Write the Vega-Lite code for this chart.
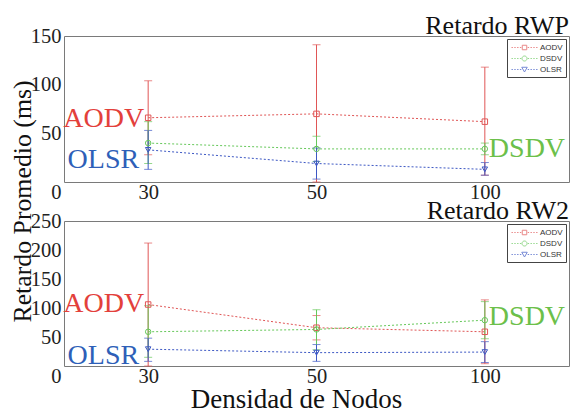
{
  "$schema": "https://vega.github.io/schema/vega-lite/v6.json",
  "background": "white",
  "padding": {"left": 8, "top": 12, "right": 5, "bottom": 0},
  "config": {
    "font": "Liberation Serif",
    "view": {"stroke": "#7a7a7a", "strokeWidth": 1},
    "axis": {"grid": false, "domain": false, "ticks": false, "labelFont": "Liberation Serif", "labelFontSize": 20.5, "labelColor": "#222", "titleFont": "Liberation Serif", "titleFontWeight": "normal", "titleColor": "#111", "labelPadding": 3, "labelOverlap": false},
    "axisX": {"labelPadding": 0},
    "title": {"font": "Liberation Serif", "fontSize": 26, "fontWeight": "normal", "color": "#111", "anchor": "end"}
  },
  "datasets": {
    "rwp": [
      {"proto": "AODV", "idx": 1, "mean": 66, "lo": 28, "hi": 104},
      {"proto": "AODV", "idx": 2, "mean": 70, "lo": 0, "hi": 141},
      {"proto": "AODV", "idx": 3, "mean": 62, "lo": 7, "hi": 118},
      {"proto": "DSDV", "idx": 1, "mean": 40, "lo": 19, "hi": 62},
      {"proto": "DSDV", "idx": 2, "mean": 34, "lo": 21, "hi": 47},
      {"proto": "DSDV", "idx": 3, "mean": 34, "lo": 28, "hi": 40},
      {"proto": "OLSR", "idx": 1, "mean": 33, "lo": 13, "hi": 53},
      {"proto": "OLSR", "idx": 2, "mean": 19, "lo": 3, "hi": 35},
      {"proto": "OLSR", "idx": 3, "mean": 13, "lo": 7, "hi": 20}
    ],
    "rw2": [
      {"proto": "AODV", "idx": 1, "mean": 106, "lo": 0, "hi": 212},
      {"proto": "AODV", "idx": 2, "mean": 66, "lo": 45, "hi": 87},
      {"proto": "AODV", "idx": 3, "mean": 59, "lo": 4, "hi": 114},
      {"proto": "DSDV", "idx": 1, "mean": 59, "lo": 15, "hi": 104},
      {"proto": "DSDV", "idx": 2, "mean": 63, "lo": 28, "hi": 97},
      {"proto": "DSDV", "idx": 3, "mean": 79, "lo": 47, "hi": 111},
      {"proto": "OLSR", "idx": 1, "mean": 29, "lo": 8, "hi": 48},
      {"proto": "OLSR", "idx": 2, "mean": 23, "lo": 8, "hi": 37},
      {"proto": "OLSR", "idx": 3, "mean": 24, "lo": 6, "hi": 42}
    ],
    "labs": [
      {"panel": "RWP", "proto": "AODV", "idx": 1, "y": 56},
      {"panel": "RWP", "proto": "OLSR", "idx": 1, "y": 14},
      {"panel": "RWP", "proto": "DSDV", "idx": 3, "y": 25.4},
      {"panel": "RW2", "proto": "AODV", "idx": 1, "y": 93.5},
      {"panel": "RW2", "proto": "OLSR", "idx": 1, "y": 3.4},
      {"panel": "RW2", "proto": "DSDV", "idx": 3, "y": 70.5}
    ],
    "leg": [{"lp": "AODV"}, {"lp": "DSDV"}, {"lp": "OLSR"}]
  },
  "spacing": 39,
  "bounds": "flush",
  "resolve": {"scale": {"x": "independent", "y": "independent", "color": "independent", "shape": "independent"}, "legend": {"color": "independent", "shape": "independent"}, "axis": {"x": "independent", "y": "independent"}},
  "vconcat": [
    {
      "width": 505,
      "height": 146,
      "title": {"text": "Retardo RWP", "offset": -13},
      "data": {"name": "rwp"},
      "resolve": {"scale": {"color": "independent", "shape": "independent"}},
      "layer": [
        {
          "mark": {"type": "line", "strokeDash": [2, 2], "strokeWidth": 1},
          "encoding": {
            "x": {"field": "idx", "type": "quantitative", "title": null, "scale": {"domain": [0.5, 3.5], "nice": false, "zero": false}, "axis": {"values": [1, 2, 3], "labelExpr": "datum.value == 1 ? '30' : datum.value == 2 ? '50' : '100'", "title": null}},
            "y": {"field": "mean", "type": "quantitative", "title": "Retardo Promedio (ms)", "scale": {"domain": [0, 150], "nice": false}, "axis": {"values": [0, 50, 100, 150], "title": "Retardo Promedio (ms)", "titleFontSize": 25.8, "titleX": -33.7, "titleY": 165, "titleAlign": "center", "titleBaseline": "alphabetic", "labelBaseline": {"condition": {"test": "datum.value == 0", "value": "top"}, "value": "middle"}}},
            "color": {"field": "proto", "type": "nominal", "scale": {"domain": ["AODV", "DSDV", "OLSR"], "range": ["#e05656", "#66c85a", "#3d58c4"]}, "legend": null},
            "detail": {"field": "proto"}
          }
        },
        {
          "mark": {"type": "errorbar", "ticks": {"size": 8}, "thickness": 1},
          "encoding": {
            "x": {"field": "idx", "type": "quantitative", "title": null, "axis": {"values": [1, 2, 3], "labelExpr": "datum.value == 1 ? '30' : datum.value == 2 ? '50' : '100'", "title": null}},
            "y": {"field": "lo", "type": "quantitative", "title": "Retardo Promedio (ms)", "axis": {"values": [0, 50, 100, 150], "title": "Retardo Promedio (ms)", "titleFontSize": 25.8, "titleX": -33.7, "titleY": 165, "titleAlign": "center", "titleBaseline": "alphabetic", "labelBaseline": {"condition": {"test": "datum.value == 0", "value": "top"}, "value": "middle"}}},
            "y2": {"field": "hi"},
            "color": {"field": "proto", "type": "nominal", "scale": {"domain": ["AODV", "DSDV", "OLSR"], "range": ["#e05656", "#66c85a", "#3d58c4"]}, "legend": null}
          }
        },
        {
          "mark": {"type": "point", "filled": false, "strokeWidth": 1, "size": 30, "opacity": 1},
          "encoding": {
            "x": {"field": "idx", "type": "quantitative", "title": null, "axis": {"values": [1, 2, 3], "labelExpr": "datum.value == 1 ? '30' : datum.value == 2 ? '50' : '100'", "title": null}},
            "y": {"field": "mean", "type": "quantitative", "title": "Retardo Promedio (ms)", "axis": {"values": [0, 50, 100, 150], "title": "Retardo Promedio (ms)", "titleFontSize": 25.8, "titleX": -33.7, "titleY": 165, "titleAlign": "center", "titleBaseline": "alphabetic", "labelBaseline": {"condition": {"test": "datum.value == 0", "value": "top"}, "value": "middle"}}},
            "color": {"field": "proto", "type": "nominal", "scale": {"domain": ["AODV", "DSDV", "OLSR"], "range": ["#e05656", "#66c85a", "#3d58c4"]}, "legend": null},
            "shape": {"field": "proto", "type": "nominal", "scale": {"domain": ["AODV", "DSDV", "OLSR"], "range": ["square", "circle", "triangle-down"]}, "legend": null}
          }
        },
        {
          "data": {"name": "labs"},
          "transform": [{"filter": "datum.panel == 'RWP'"}],
          "layer": [
            {"transform": [{"filter": "datum.proto == 'AODV'"}], "mark": {"type": "text", "align": "right", "baseline": "alphabetic", "dx": -4, "fontSize": 28, "font": "Liberation Serif", "color": "#e3403b"}},
            {"transform": [{"filter": "datum.proto == 'OLSR'"}], "mark": {"type": "text", "align": "right", "baseline": "alphabetic", "dx": -9, "fontSize": 28, "font": "Liberation Serif", "color": "#2e5fb8"}},
            {"transform": [{"filter": "datum.proto == 'DSDV'"}], "mark": {"type": "text", "align": "left", "baseline": "alphabetic", "dx": 4, "fontSize": 28, "font": "Liberation Serif", "color": "#6cc04a"}}
          ],
          "encoding": {
            "x": {"field": "idx", "type": "quantitative", "title": null, "axis": {"values": [1, 2, 3], "labelExpr": "datum.value == 1 ? '30' : datum.value == 2 ? '50' : '100'", "title": null}},
            "y": {"field": "y", "type": "quantitative", "title": "Retardo Promedio (ms)", "axis": {"values": [0, 50, 100, 150], "title": "Retardo Promedio (ms)", "titleFontSize": 25.8, "titleX": -33.7, "titleY": 165, "titleAlign": "center", "titleBaseline": "alphabetic", "labelBaseline": {"condition": {"test": "datum.value == 0", "value": "top"}, "value": "middle"}}},
            "text": {"field": "proto"}
          }
        },
        {
          "data": {"name": "leg"},
          "transform": [{"filter": "false"}],
          "mark": {"type": "point", "filled": false, "strokeWidth": 1},
          "encoding": {
            "color": {"field": "lp", "type": "nominal", "scale": {"domain": ["AODV", "DSDV", "OLSR"], "range": ["#e05656", "#66c85a", "#3d58c4"]}, "legend": {"title": null, "orient": "top-right", "offset": 3, "strokeColor": "#444", "fillColor": "white", "padding": 3, "labelFont": "Liberation Sans", "labelFontSize": 8, "labelColor": "#333", "symbolSize": 100, "symbolStrokeWidth": 1, "symbolOffset": 9, "labelOffset": 10, "rowPadding": 1}},
            "shape": {"field": "lp", "type": "nominal", "scale": {"domain": ["AODV", "DSDV", "OLSR"], "range": [
              "M-2.6,0H-2.32M-2.04,0H-1.76M-1.48,0H-1.2M-0.92,0H-0.64M0.64,0H0.92M1.2,0H1.48M1.76,0H2.04M2.32,0H2.6M-0.45,-0.45H0.45V0.45H-0.45Z",
              "M-2.6,0H-2.32M-2.04,0H-1.76M-1.48,0H-1.2M-0.92,0H-0.64M0.64,0H0.92M1.2,0H1.48M1.76,0H2.04M2.32,0H2.6M0.5,0A0.5,0.5 0 1,1 -0.5,0A0.5,0.5 0 1,1 0.5,0Z",
              "M-2.6,0H-2.32M-2.04,0H-1.76M-1.48,0H-1.2M-0.92,0H-0.64M0.64,0H0.92M1.2,0H1.48M1.76,0H2.04M2.32,0H2.6M-0.55,-0.45L0.55,-0.45L0,0.5Z"
            ]}, "legend": {"title": null, "orient": "top-right", "offset": 3, "strokeColor": "#444", "fillColor": "white", "padding": 3, "labelFont": "Liberation Sans", "labelFontSize": 8, "labelColor": "#333", "symbolSize": 100, "symbolStrokeWidth": 1, "symbolOffset": 9, "labelOffset": 10, "rowPadding": 1}}
          }
        }
      ]
    },
    {
      "width": 505,
      "height": 145,
      "title": {"text": "Retardo RW2", "offset": -13},
      "data": {"name": "rw2"},
      "resolve": {"scale": {"color": "independent", "shape": "independent"}},
      "layer": [
        {
          "mark": {"type": "line", "strokeDash": [2, 2], "strokeWidth": 1},
          "encoding": {
            "x": {"field": "idx", "type": "quantitative", "title": "Densidad de Nodos", "scale": {"domain": [0.5, 3.5], "nice": false, "zero": false}, "axis": {"values": [1, 2, 3], "labelExpr": "datum.value == 1 ? '30' : datum.value == 2 ? '50' : '100'", "title": "Densidad de Nodos", "titleFontSize": 27, "titleX": 232, "titleY": 41.5, "titleAlign": "center", "titleBaseline": "alphabetic"}},
            "y": {"field": "mean", "type": "quantitative", "title": null, "scale": {"domain": [0, 250], "nice": false}, "axis": {"values": [0, 50, 100, 150, 200, 250], "title": null, "labelBaseline": {"condition": {"test": "datum.value == 0", "value": "top"}, "value": "middle"}}},
            "color": {"field": "proto", "type": "nominal", "scale": {"domain": ["AODV", "DSDV", "OLSR"], "range": ["#e05656", "#66c85a", "#3d58c4"]}, "legend": null},
            "detail": {"field": "proto"}
          }
        },
        {
          "mark": {"type": "errorbar", "ticks": {"size": 8}, "thickness": 1},
          "encoding": {
            "x": {"field": "idx", "type": "quantitative", "title": "Densidad de Nodos", "axis": {"values": [1, 2, 3], "labelExpr": "datum.value == 1 ? '30' : datum.value == 2 ? '50' : '100'", "title": "Densidad de Nodos", "titleFontSize": 27, "titleX": 232, "titleY": 41.5, "titleAlign": "center", "titleBaseline": "alphabetic"}},
            "y": {"field": "lo", "type": "quantitative", "title": null, "axis": {"values": [0, 50, 100, 150, 200, 250], "title": null, "labelBaseline": {"condition": {"test": "datum.value == 0", "value": "top"}, "value": "middle"}}},
            "y2": {"field": "hi"},
            "color": {"field": "proto", "type": "nominal", "scale": {"domain": ["AODV", "DSDV", "OLSR"], "range": ["#e05656", "#66c85a", "#3d58c4"]}, "legend": null}
          }
        },
        {
          "mark": {"type": "point", "filled": false, "strokeWidth": 1, "size": 30, "opacity": 1},
          "encoding": {
            "x": {"field": "idx", "type": "quantitative", "title": "Densidad de Nodos", "axis": {"values": [1, 2, 3], "labelExpr": "datum.value == 1 ? '30' : datum.value == 2 ? '50' : '100'", "title": "Densidad de Nodos", "titleFontSize": 27, "titleX": 232, "titleY": 41.5, "titleAlign": "center", "titleBaseline": "alphabetic"}},
            "y": {"field": "mean", "type": "quantitative", "title": null, "axis": {"values": [0, 50, 100, 150, 200, 250], "title": null, "labelBaseline": {"condition": {"test": "datum.value == 0", "value": "top"}, "value": "middle"}}},
            "color": {"field": "proto", "type": "nominal", "scale": {"domain": ["AODV", "DSDV", "OLSR"], "range": ["#e05656", "#66c85a", "#3d58c4"]}, "legend": null},
            "shape": {"field": "proto", "type": "nominal", "scale": {"domain": ["AODV", "DSDV", "OLSR"], "range": ["square", "circle", "triangle-down"]}, "legend": null}
          }
        },
        {
          "data": {"name": "labs"},
          "transform": [{"filter": "datum.panel == 'RW2'"}],
          "layer": [
            {"transform": [{"filter": "datum.proto == 'AODV'"}], "mark": {"type": "text", "align": "right", "baseline": "alphabetic", "dx": -4, "fontSize": 28, "font": "Liberation Serif", "color": "#e3403b"}},
            {"transform": [{"filter": "datum.proto == 'OLSR'"}], "mark": {"type": "text", "align": "right", "baseline": "alphabetic", "dx": -9, "fontSize": 28, "font": "Liberation Serif", "color": "#2e5fb8"}},
            {"transform": [{"filter": "datum.proto == 'DSDV'"}], "mark": {"type": "text", "align": "left", "baseline": "alphabetic", "dx": 4, "fontSize": 28, "font": "Liberation Serif", "color": "#6cc04a"}}
          ],
          "encoding": {
            "x": {"field": "idx", "type": "quantitative", "title": "Densidad de Nodos", "axis": {"values": [1, 2, 3], "labelExpr": "datum.value == 1 ? '30' : datum.value == 2 ? '50' : '100'", "title": "Densidad de Nodos", "titleFontSize": 27, "titleX": 232, "titleY": 41.5, "titleAlign": "center", "titleBaseline": "alphabetic"}},
            "y": {"field": "y", "type": "quantitative", "title": null, "axis": {"values": [0, 50, 100, 150, 200, 250], "title": null, "labelBaseline": {"condition": {"test": "datum.value == 0", "value": "top"}, "value": "middle"}}},
            "text": {"field": "proto"}
          }
        },
        {
          "data": {"name": "leg"},
          "transform": [{"filter": "false"}],
          "mark": {"type": "point", "filled": false, "strokeWidth": 1},
          "encoding": {
            "color": {"field": "lp", "type": "nominal", "scale": {"domain": ["AODV", "DSDV", "OLSR"], "range": ["#e05656", "#66c85a", "#3d58c4"]}, "legend": {"title": null, "orient": "top-right", "offset": 3, "strokeColor": "#444", "fillColor": "white", "padding": 3, "labelFont": "Liberation Sans", "labelFontSize": 8, "labelColor": "#333", "symbolSize": 100, "symbolStrokeWidth": 1, "symbolOffset": 9, "labelOffset": 10, "rowPadding": 1}},
            "shape": {"field": "lp", "type": "nominal", "scale": {"domain": ["AODV", "DSDV", "OLSR"], "range": [
              "M-2.6,0H-2.32M-2.04,0H-1.76M-1.48,0H-1.2M-0.92,0H-0.64M0.64,0H0.92M1.2,0H1.48M1.76,0H2.04M2.32,0H2.6M-0.45,-0.45H0.45V0.45H-0.45Z",
              "M-2.6,0H-2.32M-2.04,0H-1.76M-1.48,0H-1.2M-0.92,0H-0.64M0.64,0H0.92M1.2,0H1.48M1.76,0H2.04M2.32,0H2.6M0.5,0A0.5,0.5 0 1,1 -0.5,0A0.5,0.5 0 1,1 0.5,0Z",
              "M-2.6,0H-2.32M-2.04,0H-1.76M-1.48,0H-1.2M-0.92,0H-0.64M0.64,0H0.92M1.2,0H1.48M1.76,0H2.04M2.32,0H2.6M-0.55,-0.45L0.55,-0.45L0,0.5Z"
            ]}, "legend": {"title": null, "orient": "top-right", "offset": 3, "strokeColor": "#444", "fillColor": "white", "padding": 3, "labelFont": "Liberation Sans", "labelFontSize": 8, "labelColor": "#333", "symbolSize": 100, "symbolStrokeWidth": 1, "symbolOffset": 9, "labelOffset": 10, "rowPadding": 1}}
          }
        }
      ]
    }
  ]
}
